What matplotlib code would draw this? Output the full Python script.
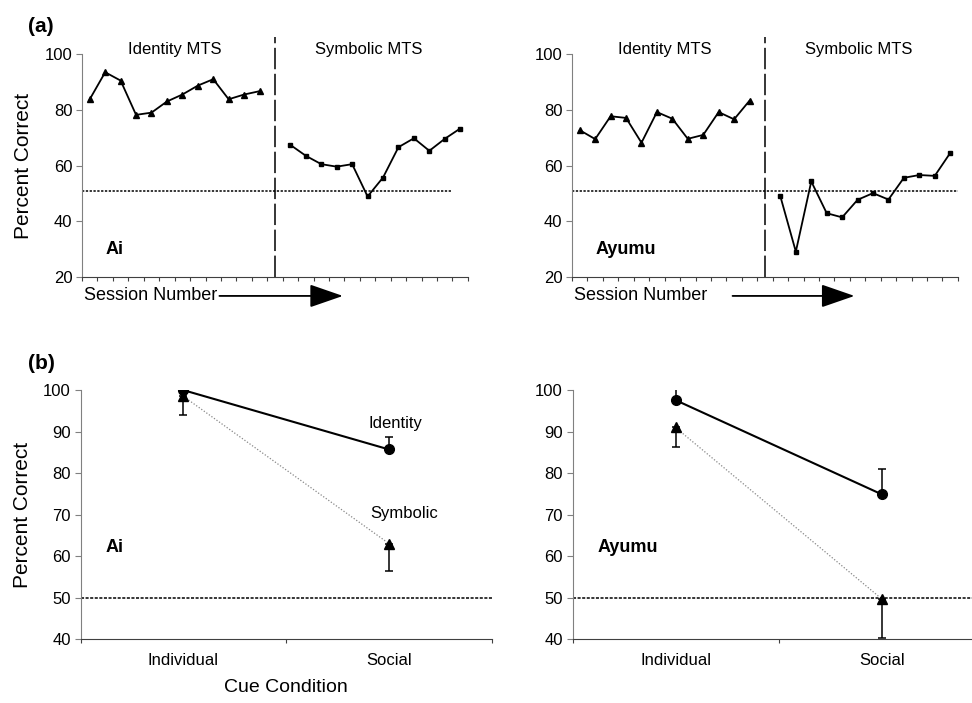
import matplotlib
matplotlib.use('Agg')
import matplotlib.pyplot as plt

plt.rcParams['font.family'] = ['Liberation Sans', 'DejaVu Sans']

# (a) session data, percent correct
ai_identity = [83.8, 93.5, 90.5, 78.2, 79.0, 83.0, 85.5, 88.7, 91.0, 83.8, 85.5, 86.7]
ai_symbolic = [67.4, 63.5, 60.5, 59.6, 60.5, 48.9, 55.7, 66.6, 69.8, 65.3, 69.6, 73.3]
ayumu_identity = [72.7, 69.5, 77.7, 77.1, 68.2, 79.2, 76.8, 69.6, 71.0, 79.2, 76.6, 83.3]
ayumu_symbolic = [48.9, 29.1, 54.3, 42.9, 41.4, 47.7, 50.1, 47.8, 55.6, 56.6, 56.3, 64.5]
chance_a = [50.7, 51.0]

# (b) cue condition data
conditions = ['Individual', 'Social']
ai_id_mean = [100.0, 85.7]
ai_id_err = [3.2, 3.0]
ai_sym_mean = [98.5, 63.0]
ai_sym_err = [4.5, 6.7]
ay_id_mean = [97.6, 74.9]
ay_id_err = [3.0, 6.0]
ay_sym_mean = [91.0, 49.7]
ay_sym_err = [4.8, 9.4]

fig = plt.figure(figsize=(9.72, 7.03), dpi=100)

grey = '#808080'


def style_axes(ax):
    ax.spines['top'].set_visible(False)
    ax.spines['right'].set_visible(False)
    ax.spines['left'].set_color(grey)
    ax.spines['bottom'].set_color('#404040')
    ax.tick_params(axis='y', labelsize=12, length=4, color=grey, pad=3)
    ax.tick_params(axis='x', length=3, color='#404040')


def session_panel(rect, identity, symbolic, chance, chance_end, name, arrow_end, text_gap):
    ax = fig.add_axes(rect)
    style_axes(ax)
    n_id = len(identity)
    n_sym = len(symbolic)
    total = n_id + 1 + n_sym
    x_id = [i + 0.5 for i in range(n_id)]
    x_sym = [n_id + 1 + i + 0.5 for i in range(n_sym)]
    ax.plot(x_id, identity, color='black', lw=1.3, marker='^', ms=4)
    ax.plot(x_sym, symbolic, color='black', lw=1.3, marker='s', ms=3.5)
    ax.plot([0, chance_end], [chance, chance], color='black', lw=1.1, ls=(0, (1.5, 1)))
    ax.plot([n_id + 0.5, n_id + 0.5], [20, 106], color='black', lw=1.1,
            ls=(0, (14, 3)), clip_on=False)
    ax.set_xlim(0, total)
    ax.set_ylim(20, 100)
    ax.set_yticks([20, 40, 60, 80, 100])
    ax.set_xticks(range(total + 1))
    ax.set_xticklabels([])
    ax.text(n_id / 2, 101.5, 'Identity MTS', ha='center', va='center', fontsize=12)
    ax.text(n_id + 1 + n_sym / 2 - 0.4, 101.5, 'Symbolic MTS', ha='center', va='center',
            fontsize=12)
    ax.text(1.5, 30, name, fontsize=13, fontweight='bold', va='center')
    ax.text(0.1, -0.085, 'Session Number', transform=ax.get_xaxis_transform(),
            fontsize=13, va='center', ha='left')
    ax.annotate('', xy=(arrow_end, -0.085), xytext=(text_gap, -0.085),
                xycoords=ax.get_xaxis_transform(), textcoords=ax.get_xaxis_transform(),
                arrowprops=dict(arrowstyle='-|>,head_length=1.3,head_width=0.45',
                                color='black', lw=1.3, mutation_scale=16,
                                shrinkA=0, shrinkB=0),
                annotation_clip=False)
    return ax


def cue_panel(rect, id_mean, id_err, sym_mean, sym_err, name, labels=False):
    ax = fig.add_axes(rect)
    style_axes(ax)
    x = [0.5, 1.5]
    ax.plot(x, sym_mean, color='#888888', lw=0.9, ls=(0, (1, 1.5)))
    ax.errorbar(x, sym_mean, yerr=[sym_err, [0, 0]], fmt='none', ecolor='black',
                elinewidth=1.1, capsize=3, capthick=1.1)
    ax.plot(x, sym_mean, ls='none', marker='^', ms=7, color='black')
    ax.errorbar(x, id_mean, yerr=[[0, 0], id_err], fmt='none', ecolor='black',
                elinewidth=1.1, capsize=3, capthick=1.1)
    ax.plot(x, id_mean, color='black', lw=1.5, marker='o', ms=7)
    ax.axhline(50, color='black', lw=1.1, ls=(0, (2, 1)), clip_on=False)
    ax.set_xlim(0, 2)
    ax.set_ylim(40, 100)
    ax.set_yticks(range(40, 101, 10))
    ax.set_xticks([0, 1, 2])
    ax.set_xticklabels([])
    ax.set_xticks([0.5, 1.5], minor=True)
    ax.set_xticklabels(conditions, minor=True, fontsize=12)
    ax.tick_params(axis='x', which='minor', length=0, pad=10)
    ax.text(0.12, 62, name, fontsize=13, fontweight='bold', va='center')
    if labels:
        ax.text(1.53, 92, 'Identity', ha='center', va='center', fontsize=12)
        ax.text(1.575, 70.2, 'Symbolic', ha='center', va='center', fontsize=12)
    return ax


ax1 = session_panel([0.0844, 0.606, 0.397, 0.317], ai_identity, ai_symbolic,
                    chance_a[0], 23.9, 'Ai', 16.9, 8.9)
ax1.set_ylabel('Percent Correct', fontsize=15, labelpad=8)
ax2 = session_panel([0.5885, 0.606, 0.397, 0.317], ayumu_identity, ayumu_symbolic,
                    chance_a[1], 25, 'Ayumu', 18.3, 10.4)

ax3 = cue_panel([0.083, 0.091, 0.423, 0.354], ai_id_mean, ai_id_err,
                ai_sym_mean, ai_sym_err, 'Ai', labels=True)
ax3.set_ylabel('Percent Correct', fontsize=15, labelpad=8)
ax3.set_xlabel('Cue Condition', fontsize=14, labelpad=8)
ax4 = cue_panel([0.589, 0.091, 0.424, 0.354], ay_id_mean, ay_id_err,
                ay_sym_mean, ay_sym_err, 'Ayumu')

fig.text(0.029, 0.963, '(a)', fontsize=15, fontweight='bold', va='center')
fig.text(0.029, 0.483, '(b)', fontsize=15, fontweight='bold', va='center')

fig.savefig('out.png', dpi=100)
